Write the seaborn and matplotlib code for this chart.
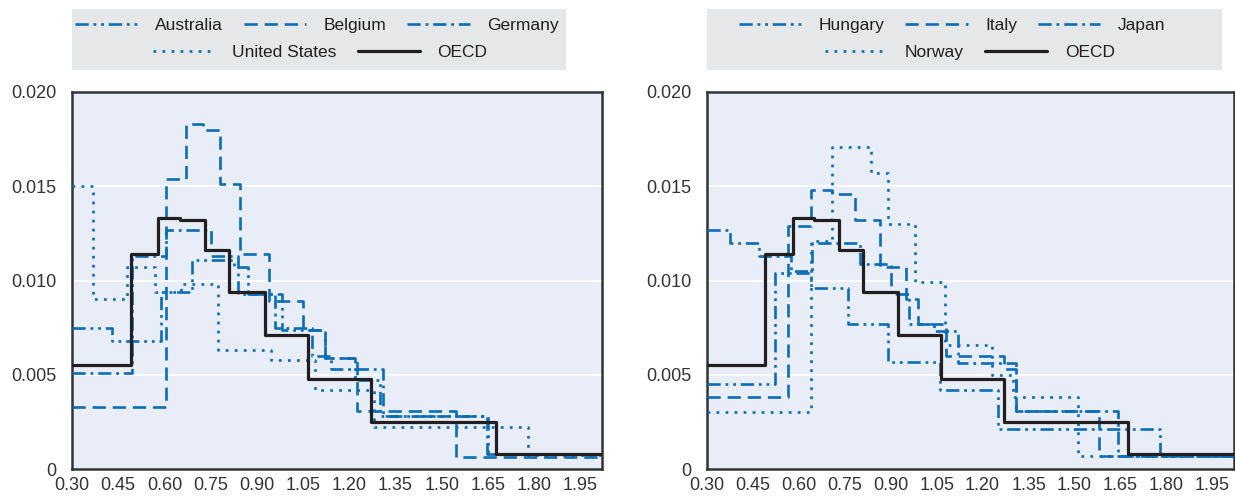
import matplotlib
matplotlib.use("Agg")
import matplotlib.pyplot as plt
from matplotlib.lines import Line2D
from matplotlib.patches import Rectangle
from matplotlib.ticker import FuncFormatter
import seaborn as sns
import pandas as pd

# step breakpoints (x = start of each step, y = level)
x_end = 2.02

oecd_x = [0.30, 0.49, 0.58, 0.65, 0.73, 0.81, 0.925, 1.065, 1.27, 1.675]
oecd_y = [0.0055, 0.0114, 0.0133, 0.0132, 0.0116, 0.0094, 0.0071, 0.0048, 0.0025, 0.0008]

aus_x = [0.30, 0.43, 0.59, 0.69, 0.825, 0.872, 0.98, 1.12, 1.22, 1.30, 1.65]
aus_y = [0.0075, 0.0068, 0.0094, 0.0111, 0.0107, 0.0093, 0.0074, 0.0059, 0.0047, 0.0028, 0.0008]
bel_x = [0.30, 0.605, 0.67, 0.725, 0.78, 0.845, 0.94, 1.05, 1.12, 1.225, 1.547]
bel_y = [0.0033, 0.0154, 0.0183, 0.0180, 0.0151, 0.0114, 0.0089, 0.0074, 0.0059, 0.0031, 0.00065]
deu_x = [0.30, 0.495, 0.605, 0.75, 0.84, 0.96, 1.08, 1.14, 1.31, 1.647]
deu_y = [0.0051, 0.0113, 0.0127, 0.0113, 0.0093, 0.0075, 0.0060, 0.0053, 0.0028, 0.0008]
usa_x = [0.30, 0.367, 0.478, 0.57, 0.655, 0.775, 0.945, 1.09, 1.28, 1.78]
usa_y = [0.0150, 0.0090, 0.0107, 0.0094, 0.0098, 0.0063, 0.0058, 0.0042, 0.00225, 0.00075]

hun_x = [0.30, 0.522, 0.64, 0.76, 0.89, 1.06, 1.25, 1.78]
hun_y = [0.0045, 0.0104, 0.0096, 0.0077, 0.0057, 0.0042, 0.0021, 0.0007]
ita_x = [0.30, 0.566, 0.64, 0.71, 0.785, 0.865, 0.95, 0.99, 1.08, 1.27, 1.31, 1.58]
ita_y = [0.0038, 0.0129, 0.0148, 0.0146, 0.0132, 0.0107, 0.0090, 0.0077, 0.0060, 0.0053, 0.0031, 0.0007]
jpn_x = [0.30, 0.376, 0.47, 0.575, 0.645, 0.80, 0.90, 0.96, 1.04, 1.12, 1.31, 1.64]
jpn_y = [0.0127, 0.0120, 0.0113, 0.0105, 0.0120, 0.0109, 0.0093, 0.0077, 0.0073, 0.0056, 0.0031, 0.0007]
nor_x = [0.30, 0.64, 0.71, 0.835, 0.89, 0.978, 1.077, 1.23, 1.30, 1.51]
nor_y = [0.0030, 0.0121, 0.0171, 0.0157, 0.0130, 0.0099, 0.0066, 0.0050, 0.0038, 0.0007]

x_ticks = [0.30, 0.45, 0.60, 0.75, 0.90, 1.05, 1.20, 1.35, 1.50, 1.65, 1.80, 1.95]
y_ticks = [0, 0.005, 0.010, 0.015, 0.020]

BLUE = "#0A6DB7"
DARK = "#231F20"
STYLES = {
    "dashdotdot": (0, (9.5, 3.5, 2, 3.5, 2, 3.5)),
    "dashed": (0, (9.5, 5)),
    "dashdot": (0, (9.5, 3.5, 2, 3.5)),
    "dotted": (0, (2, 4.5)),
    "solid": "-",
}

sns.set_theme(style="white")
plt.rcParams["font.family"] = ["Liberation Sans", "DejaVu Sans"]
plt.rcParams["lines.scale_dashes"] = False
plt.rcParams["text.color"] = DARK

W, H = 1235, 496
fig = plt.figure(figsize=(W / 100, H / 100), dpi=100)


def step_df(xs, ys):
    return pd.DataFrame({"x": list(xs) + [x_end], "y": list(ys) + [ys[-1]]})


def draw_panel(ax, series):
    ax.set_facecolor("#E9EDF7")
    for name, xs, ys, style in series:
        color = DARK if name == "OECD" else BLUE
        lw = 2.3 if name == "OECD" else 1.9
        sns.lineplot(data=step_df(xs, ys), x="x", y="y", ax=ax, color=color,
                     lw=lw, linestyle=STYLES[style], drawstyle="steps-post",
                     estimator=None, legend=False, zorder=5 if name == "OECD" else 3)
    ax.set_xlim(0.30, x_end)
    ax.set_ylim(0, 0.020)
    ax.set_xticks(x_ticks)
    ax.set_yticks(y_ticks)
    ax.xaxis.set_major_formatter(FuncFormatter(lambda v, p: f"{v:.2f}"))
    ax.yaxis.set_major_formatter(FuncFormatter(lambda v, p: "0" if v == 0 else f"{v:.3f}"))
    for y in y_ticks[1:-1]:
        ax.axhline(y, color="white", lw=1.3, zorder=1)
    ax.tick_params(axis="both", labelsize=13, colors="#333333")
    ax.tick_params(axis="x", length=0, pad=6)
    ax.tick_params(axis="y", length=4, color="#777777", direction="in", pad=11)
    ax.set_xlabel("")
    ax.set_ylabel("")
    for sp in ax.spines.values():
        sp.set_color("#333333")
        sp.set_linewidth(1.8)


def draw_legend(series, x0, x1, row_c1, row_c2):
    fig.patches.append(Rectangle((x0 / W, 1 - 70 / H), (x1 - x0) / W, 61 / H,
                                 transform=fig.transFigure, facecolor="#E6E7E8",
                                 edgecolor="none", zorder=0))
    handles = []
    for name, xs, ys, style in series:
        color = DARK if name == "OECD" else BLUE
        handles.append(Line2D([], [], color=color, lw=2.3 if name == "OECD" else 1.9,
                              linestyle=STYLES[style]))
    names = [s[0] for s in series]
    for hs, ns, cx, cy in [(handles[:3], names[:3], row_c1, 25), (handles[3:], names[3:], row_c2, 52.7)]:
        leg = fig.legend(hs, ns, loc="center", bbox_to_anchor=(cx / W, 1 - cy / H),
                         ncol=len(hs), frameon=False, fontsize=12.5, handlelength=3.6,
                         handletextpad=1.0, columnspacing=1.2, borderpad=0)
        for t in leg.get_texts():
            t.set_color(DARK)


left_series = [
    ("Australia", aus_x, aus_y, "dashdotdot"),
    ("Belgium", bel_x, bel_y, "dashed"),
    ("Germany", deu_x, deu_y, "dashdot"),
    ("United States", usa_x, usa_y, "dotted"),
    ("OECD", oecd_x, oecd_y, "solid"),
]
right_series = [
    ("Hungary", hun_x, hun_y, "dashdotdot"),
    ("Italy", ita_x, ita_y, "dashed"),
    ("Japan", jpn_x, jpn_y, "dashdot"),
    ("Norway", nor_x, nor_y, "dotted"),
    ("OECD", oecd_x, oecd_y, "solid"),
]

ax1 = fig.add_axes([72 / W, 27 / H, 530 / W, 377 / H])
ax2 = fig.add_axes([706.7 / W, 27 / H, 527.3 / W, 377 / H])
draw_panel(ax1, left_series)
draw_panel(ax2, right_series)
draw_legend(left_series, 72, 566, 317, 320)
draw_legend(right_series, 706.7, 1221.7, 952, 970)

fig.savefig("out.png", dpi=100)
